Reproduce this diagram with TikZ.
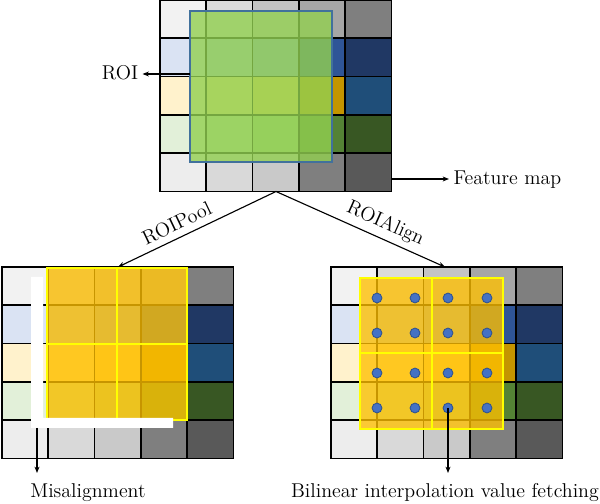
\documentclass[tikz,border=0pt]{standalone}
\usepackage{tikz}
\usetikzlibrary{arrows.meta}

% cell colours of the feature map, row by row
\definecolor{cell00}{HTML}{F2F2F2}
\definecolor{cell01}{HTML}{DBDBDB}
\definecolor{cell02}{HTML}{C4C4C4}
\definecolor{cell03}{HTML}{A6A6A6}
\definecolor{cell04}{HTML}{7F7F7F}
\definecolor{cell10}{HTML}{DAE3F3}
\definecolor{cell11}{HTML}{B4C7E7}
\definecolor{cell12}{HTML}{8FAADC}
\definecolor{cell13}{HTML}{2F5597}
\definecolor{cell14}{HTML}{203864}
\definecolor{cell20}{HTML}{FFF2CC}
\definecolor{cell21}{HTML}{FFE699}
\definecolor{cell22}{HTML}{FFD966}
\definecolor{cell23}{HTML}{C49500}
\definecolor{cell24}{HTML}{1F4E79}
\definecolor{cell30}{HTML}{E2F0D9}
\definecolor{cell31}{HTML}{C5E0B4}
\definecolor{cell32}{HTML}{A9D18E}
\definecolor{cell33}{HTML}{548235}
\definecolor{cell34}{HTML}{385723}
\definecolor{cell40}{HTML}{EDEDED}
\definecolor{cell41}{HTML}{D9D9D9}
\definecolor{cell42}{HTML}{C9C9C9}
\definecolor{cell43}{HTML}{7F7F7F}
\definecolor{cell44}{HTML}{595959}
\definecolor{roigreen}{HTML}{92D050}
\definecolor{roiedge}{HTML}{41719C}
\definecolor{binorange}{HTML}{FFC000}
\definecolor{binyellow}{HTML}{FFFF00}
\definecolor{dotblue}{HTML}{4472C4}
\definecolor{dotedge}{HTML}{2F528F}

\tikzset{
cellline/.style = {draw=black, line width=1.2pt},
roibox/.style = {fill=roigreen, fill opacity=0.8, draw=roiedge, line width=1pt},
binbox/.style = {fill=binorange, fill opacity=0.78, draw=binyellow, line width=0.9pt},
binline/.style = {draw=binyellow, line width=0.9pt},
sample/.style = {circle, fill=dotblue, draw=dotedge, line width=0.6pt,
                 minimum size=#1, inner sep=0pt},
sample/.default = 7pt, % diameter of a sampling point
flow/.style = {-{Stealth[length=4.5pt, width=3.5pt]}, line width=0.8pt},
lbl/.style = {font=\fontsize{14.2}{16}\selectfont, inner sep=3pt}
}
\tikzset{
featmap/.pic = {
  \foreach \r in {0,...,4}
    \foreach \c in {0,...,4}
      \filldraw[cellline, fill=cell\r\c] (\c*46.3, \r*38.3) rectangle ++(46.3, 38.3);
}}

\begin{document}
\begin{tikzpicture}[x=0.025cm, y=-0.025cm]
  \useasboundingbox (0,0) rectangle (600,504);

  % Feature maps
    \pic (fm) at (160,0) {featmap};
    \pic (pool) at (2,267) {featmap};
    \pic (align) at (331,267) {featmap};

  % ROI on the feature map
    \draw[roibox] (190,11) rectangle (332,162);

  % ROIPool bins, snapped to the grid
    \draw[binbox] (47,268) rectangle (187,420);
    \draw[binline] (117,268) -- (117,420) (47,344) -- (187,344);
    \fill[white] (31,277) rectangle (43,428) (31,418) rectangle (173,428);

  % ROIAlign bins with sampling points
    \draw[binbox] (360,278) rectangle (503,429);
    \draw[binline] (432,278) -- (432,429) (360,353) -- (503,353);
    \foreach \i/\x in {1/377,2/415,3/448,4/487}
      \foreach \j/\y in {1/298,2/333,3/373,4/408}
        \node[sample] (s\i\j) at (\x,\y) {};

  % Labels
    \node[lbl, anchor=base] (roi) at (120,80) {ROI};
    \node[lbl, anchor=base west] (fmap) at (449,185) {Feature map};
    \node[lbl, anchor=base] (misalign) at (88,498) {Misalignment};
    \node[lbl, anchor=base] (bilinear) at (445,498) {Bilinear interpolation value fetching};

  % Coordinates
    \coordinate (roiSrc) at (190,74);
    \coordinate (fmapSrc) at (392,179);
    \coordinate (split) at (276,191.5);
    \coordinate (poolIn) at (118,267);
    \coordinate (alignIn) at (445,267);
    \coordinate (misSrc) at (37,428);
    \coordinate (misEnd) at (37,473);
    \coordinate (bilEnd) at (448,473);

  % Lines
    \draw[flow] (roiSrc) -- (roiSrc -| roi.east);
    \draw[flow] (fmapSrc) -- (fmapSrc -| fmap.west);
    \draw[{Stealth[length=4.5pt, width=3.5pt]}-, line width=0.8pt]
      (poolIn) -- node[lbl, sloped, above=1.5pt, pos=0.41]{ROIPool} (split);
    \draw[flow] (split) -- node[lbl, sloped, above=1pt, pos=0.61]{ROIAlign} (alignIn);
    \draw[flow] (misSrc) -- (misEnd);
    \draw[flow] (s34.center) -- (bilEnd);
  \end{tikzpicture}
\end{document}
